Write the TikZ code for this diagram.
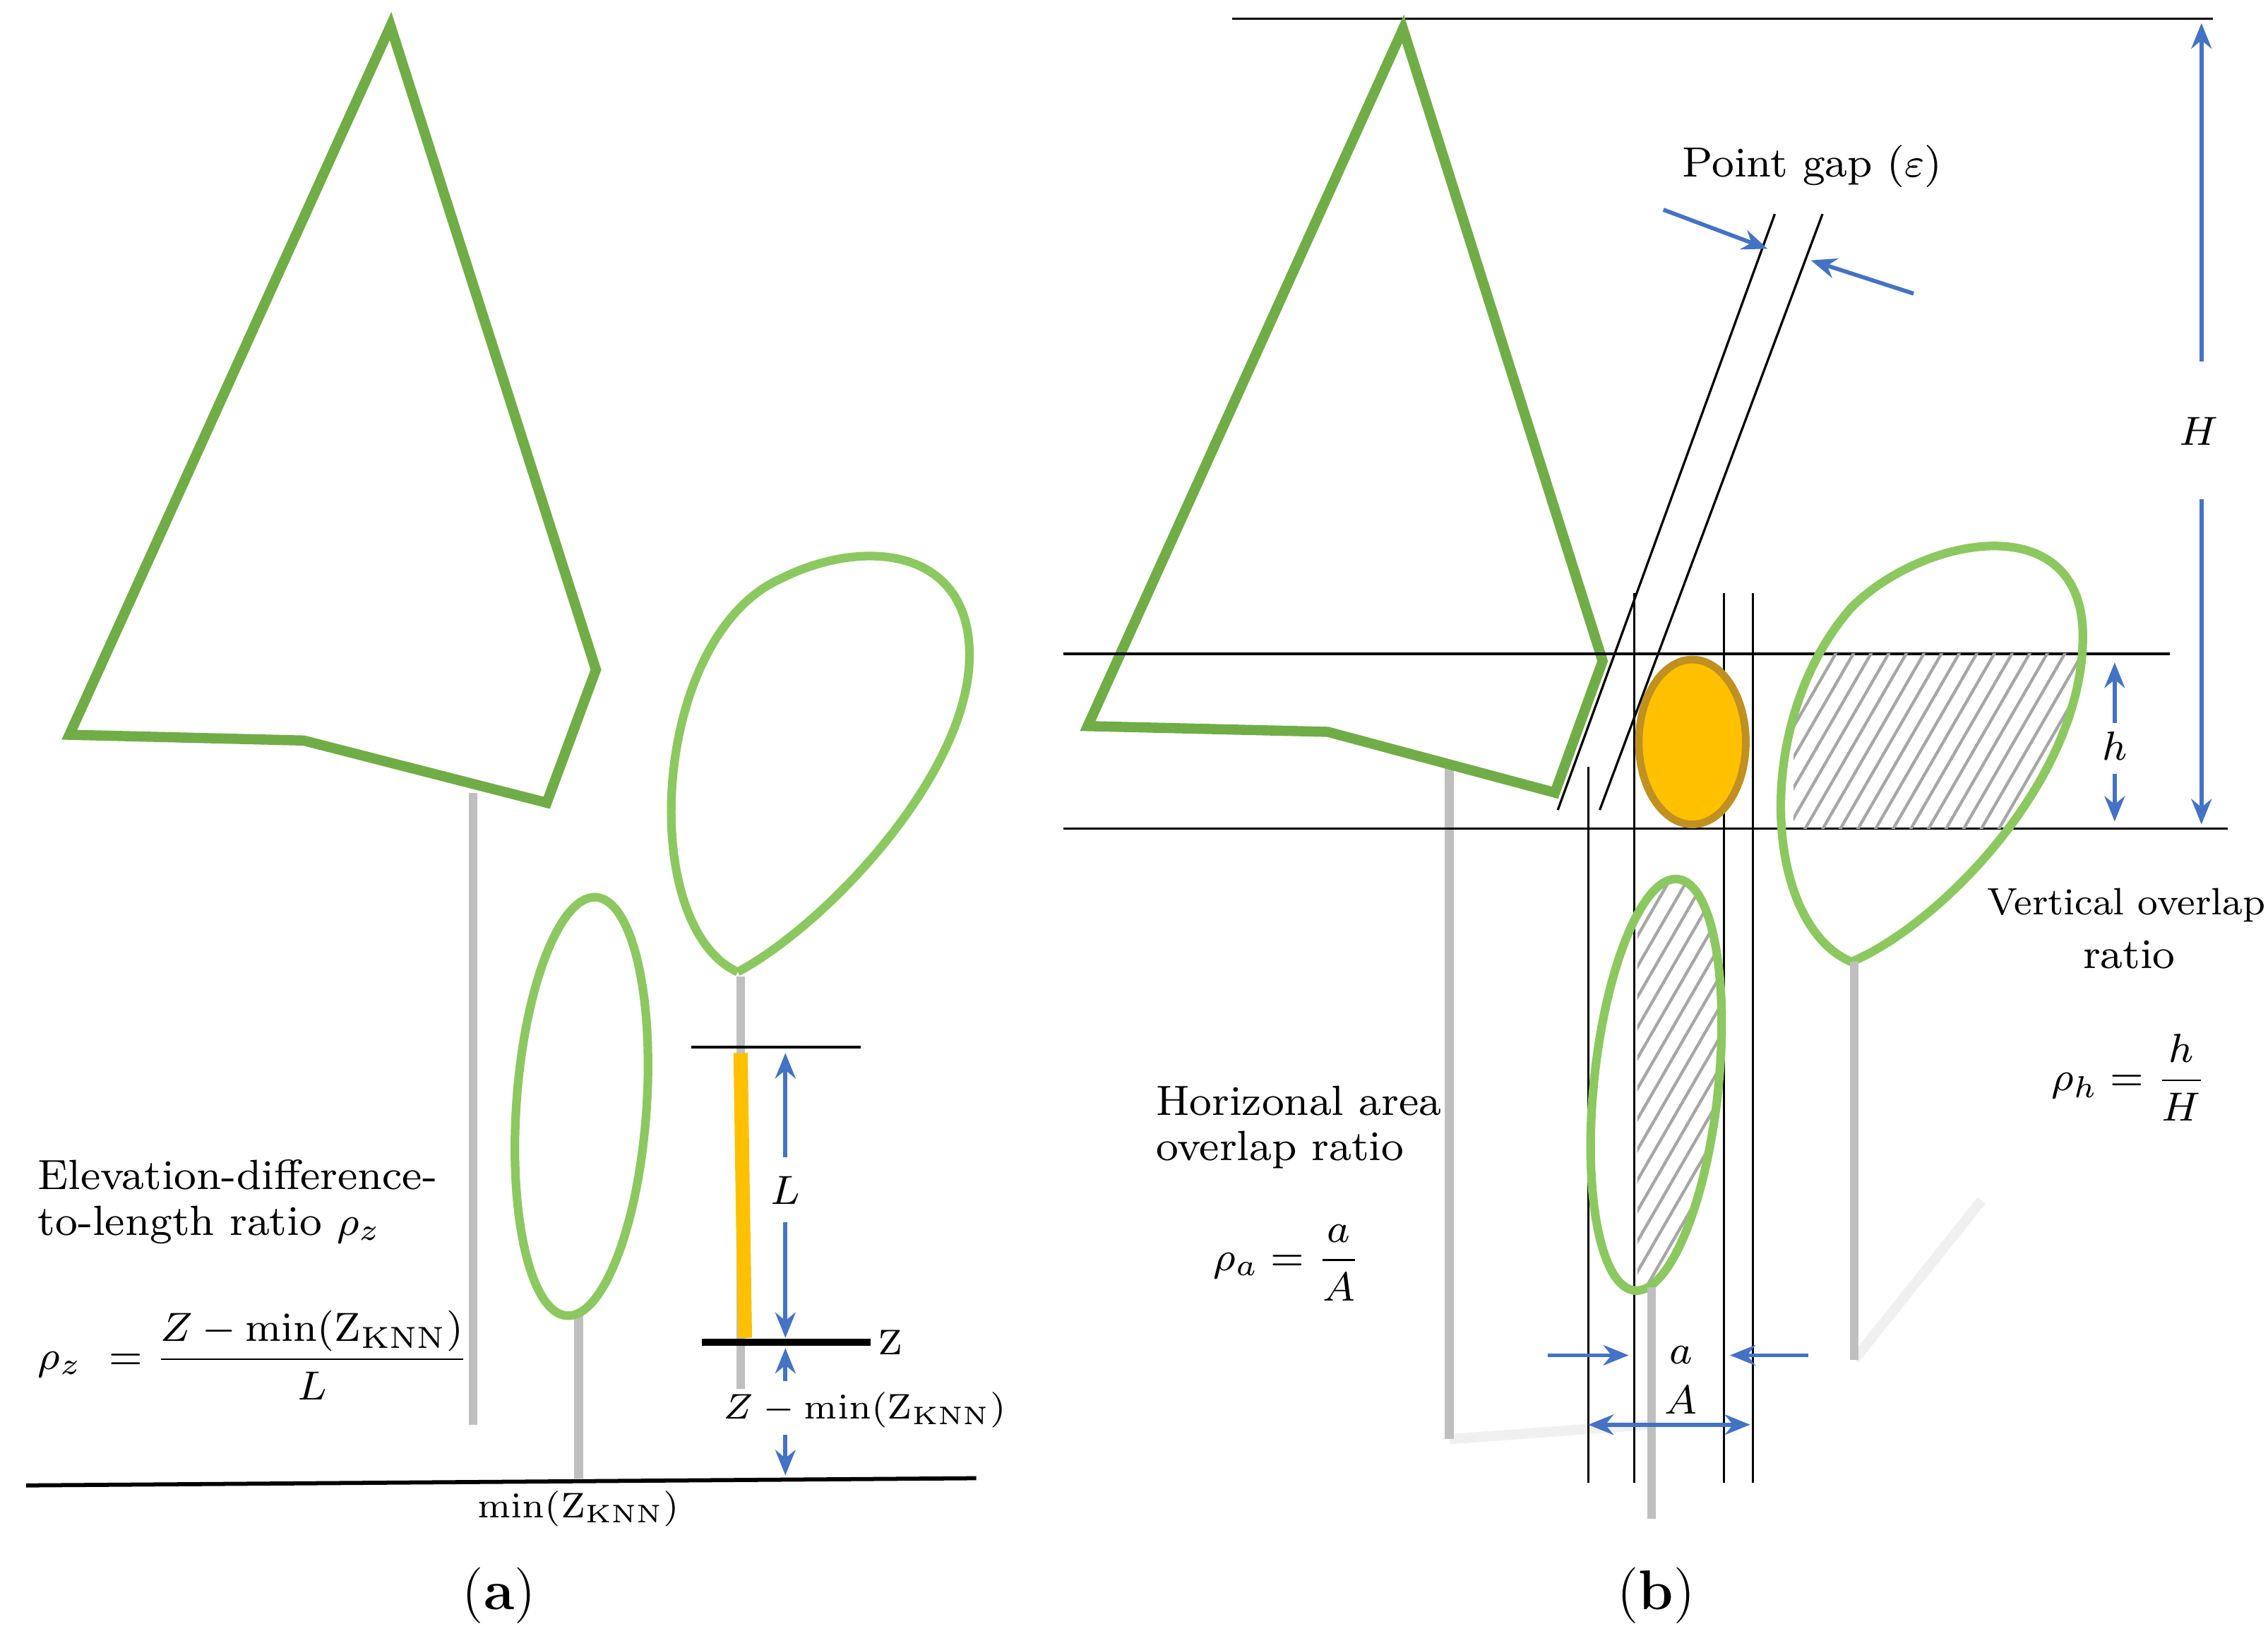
\documentclass[tikz,border=0pt]{standalone}
\usepackage{amsmath}
\usetikzlibrary{patterns,patterns.meta,arrows.meta}
\definecolor{tg}{HTML}{70AD47}
\definecolor{lg}{HTML}{8CC860}
\definecolor{bl}{HTML}{4472C4}
\definecolor{og}{HTML}{FFC000}
\definecolor{ob}{HTML}{C09020}
\begin{document}
\begin{tikzpicture}[x=0.01cm,y=-0.01cm,
 tree/.style={tg,line width=2pt,line join=miter},
 crown/.style={lg,line width=1.7pt},
 trunk/.style={gray!50,line width=1.7pt},
 thin/.style={black,line width=0.45pt},
 ba/.style={bl,line width=0.8pt,-{Stealth[length=5pt,width=4pt]}},
 lab/.style={font=\fontsize{7}{8.5}\selectfont,inner sep=1pt},
 big/.style={font=\fontsize{8.3}{10}\selectfont,inner sep=1pt},
 hat/.style={pattern={Lines[angle=60,distance=3pt,line width=0.6pt]},pattern color=gray!70}]
\useasboundingbox (0,0) rectangle (1568,1131);
% ===== (a)
\draw[trunk] (327,548) coordinate(t1a) -- (327,985) coordinate(t1b);
\draw[tree] (270,18) -- (48,508) -- (210,512) -- (378,555) -- (412,463) -- cycle;
\draw[trunk] (400,908) coordinate(t2a) -- (400,1022) coordinate(t2b);
\draw[crown,rotate around={-4:(402,765)}] (402,765) ellipse [x radius=45,y radius=145];
\draw[trunk] (512,675) coordinate(t3a) -- (512,960) coordinate(t3b);
\draw[crown] (510,672) .. controls (440,640) and (450,440) .. (540,400) .. controls (600,370) and (675,380) .. (670,460) .. controls (665,540) and (570,640) .. (510,672);
\draw[og,line width=2.8pt] (512,728) -- (515,925);
\draw[black,line width=0.6pt] (478,724) coordinate(la) -- (595,724) coordinate(lb);
\draw[black,line width=1.5pt] (485,928) coordinate(za) -- (602,928) coordinate(zb);
\node[lab,anchor=west] (zl) at (603,928) {Z};
\node[big] (L) at (543,823) {$L$};
\draw[ba] (543,800) -- (543,728);
\draw[ba] (543,845) -- (543,925);
\draw[ba] (543,955) -- (543,932);
\node[lab] (zm) at (598,975) {$Z-\min(\mathrm{Z_{KNN}})$};
\draw[ba] (543,992) -- (543,1020);
\draw[black,line width=0.8pt] (18,1027) coordinate(g1) -- (675,1022) coordinate(g2);
\node[lab] (mz) at (400,1043) {$\mathrm{min(Z_{KNN})}$};
\node[big,anchor=west] (e1) at (22,812) {Elevation-difference-};
\node[big,anchor=west] (e2) at (22,847) {to-length ratio $\rho_z$};
\node[big,anchor=west] (f1) at (22,937) {$\rho_z\ =\dfrac{Z-\min(\mathrm{Z_{KNN}})}{L}$};
\node[lab] (pa) at (345,1103) {\fontsize{11}{13}\selectfont (\textbf{a})};
% ===== (b)
\draw[gray!12,line width=2pt] (1282,940) -- (1370,830);
\draw[gray!12,line width=2pt] (1002,995) -- (1140,985);
\draw[thin] (852,13) coordinate(tl) -- (1530,13) coordinate(tr);
\draw[ba] (1522,250) -- (1522,16);
\draw[ba] (1522,345) -- (1522,570);
\node[big] (H) at (1520,298) {$H$};
\draw[trunk] (1002,530) coordinate(u1) -- (1002,995) coordinate(u2);
\draw[tree] (970,20) -- (752,502) -- (918,506) -- (1075,548) -- (1108,457) -- cycle;
\draw[thin] (735,452) coordinate(h1) -- (1500,452) coordinate(h2);
\draw[thin] (735,573) coordinate(h3) -- (1540,573) coordinate(h4);
\draw[thin] (1077,560) coordinate(d1) -- (1227,148) coordinate(d2);
\draw[thin] (1106,560) coordinate(d3) -- (1260,148) coordinate(d4);
\draw[ba] (1150,145) -- (1222,172);
\draw[ba] (1323,203) -- (1252,180);
\node[big] (pg) at (1253,115) {Point gap ($\varepsilon$)};
\foreach \x/\t in {1098/530,1130/410,1192/410,1212/410} \draw[thin] (\x,\t) -- (\x,1025);
\draw[ob,fill=og,line width=1.5pt] (1170,513) ellipse [x radius=37,y radius=57];
\def\blob{(1280,665) .. controls (1220,640) and (1210,500) .. (1280,420) .. controls (1330,370) and (1440,350) .. (1440,440) .. controls (1440,540) and (1340,640) .. (1280,665)}
\begin{scope}
\clip \blob;
\fill[hat] (1240,452) rectangle (1450,573);
\end{scope}
\draw[crown] \blob;
\draw[trunk] (1282,665) coordinate(w1) -- (1282,940) coordinate(w2);
\begin{scope}
\clip[rotate around={-6:(1145,750)}] (1145,750) ellipse [x radius=43,y radius=143];
\fill[hat] (1132,600) rectangle (1200,900);
\end{scope}
\draw[crown,rotate around={-6:(1145,750)}] (1145,750) ellipse [x radius=43,y radius=143];
\draw[trunk] (1142,890) coordinate(v1) -- (1142,1050) coordinate(v2);
\draw[ba] (1462,500) -- (1462,458);
\draw[ba] (1462,535) -- (1462,568);
\node[big] (h) at (1462,516) {$h$};
\draw[ba] (1070,937) -- (1126,937);
\draw[ba] (1250,937) -- (1196,937);
\node[big] (a) at (1162,937) {$a$};
\draw[bl,line width=0.8pt,{Stealth[length=5pt,width=4pt]}-{Stealth[length=5pt,width=4pt]}] (1098,985) -- (1210,985);
\node[big] (A) at (1162,968) {$A$};
\node[inner sep=1pt] (v1t) at (1470,626) {\fontsize{7.5}{9}\selectfont Vertical overlap};
\node[big] (v2t) at (1472,660) {ratio};
\node[big] (rh) at (1472,745) {$\rho_h=\dfrac{h}{H}$};
\node[big,anchor=west] (o1) at (795,761) {Horizonal area};
\node[big,anchor=west] (o2) at (795,795) {overlap ratio};
\node[big] (ra) at (890,873) {$\rho_a=\dfrac{a}{A}$};
\node[lab] (pb) at (1145,1103) {\fontsize{11}{13}\selectfont (\textbf{b})};
\end{tikzpicture}
\end{document}
